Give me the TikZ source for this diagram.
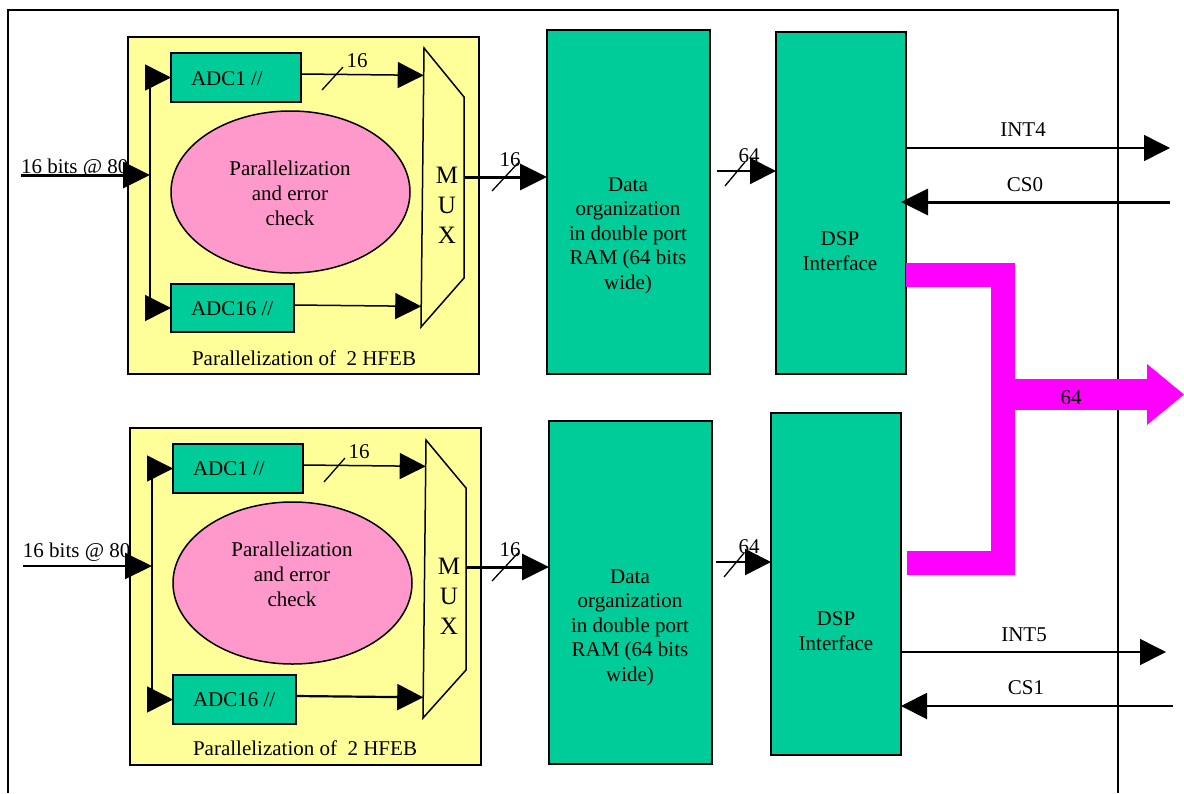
\documentclass[tikz,border=0pt]{standalone}
\usepackage{fontspec}
\setmainfont{Liberation Serif}
\usetikzlibrary{arrows.meta,shapes.geometric,calc}
\definecolor{hfebyellow}{HTML}{FFFF99}
\definecolor{blockgreen}{HTML}{00CC99}
\definecolor{checkpink}{HTML}{FF99CC}
\definecolor{busmagenta}{HTML}{FF00FF}
% rectangle node given by its corners: style, x1, y1, x2, y2, name
\newcommand\placeblock[6]{%
  \node[#1,minimum width={(#4)-(#2)},minimum height={(#5)-(#3)}] (#6)
    at ({((#2)+(#4))/2},{((#3)+(#5))/2}) {};}
\begin{document}
\begin{tikzpicture}[x=1pt,y=-1pt,
  font=\fontsize{21}{25}\selectfont,
  every node/.style={inner sep=0pt,outer sep=0pt},
  card/.style={draw,line width=1.5pt,rectangle},
  hfeb/.style={card,fill=hfebyellow},
  unit/.style={card,fill=blockgreen},
  check/.style={draw,line width=1.5pt,ellipse,fill=checkpink,
    minimum width=239pt,minimum height=162pt},
  sig/.style={line width=1.5pt,-{Triangle[length=26pt,width=26pt]}},
  bigsig/.style={line width=3pt,-{Triangle[length=27pt,width=26pt]}},
  wire/.style={line width=1.5pt},
  tick/.style={line width=1.3pt},
  lbl/.style={anchor=base},
  % multi-line text: positioned by the baseline of its last line
  txt/.style={anchor=base,align=center},
  ramtxt/.style={txt,font=\fontsize{21}{24.5}\selectfont},
  muxtxt/.style={txt,font=\fontsize{25}{30}\selectfont},
  bus/.style={busmagenta,line join=miter},
]
\useasboundingbox (0,0) rectangle (1184,793);

% outer frame
\draw[line width=1.5pt] (8,793) -- (8,10) -- (1118,10) -- (1118,793);

% ================= upper channel =================
\placeblock{hfeb}{128}{37}{479}{374}{hfebA}
\node[lbl] (hfebAcap) at (304,365) {Parallelization of\ \ 2 HFEB};
\placeblock{unit}{171}{53}{301}{102}{adc1A}
\node[anchor=base west] (adc1Atxt) at (191,85) {ADC1 //};
\placeblock{unit}{171}{284}{294}{332}{adc16A}
\node[anchor=base west] (adc16Atxt) at (191,315) {ADC16 //};
\node[check] (parA) at (290.5,192) {};
\node[txt] (parAtxt) at (290,225.5) {Parallelization\\and error\\check};

\coordinate (muxAtl) at (424,48);
\coordinate (muxAtr) at (464,97);
\coordinate (muxAbr) at (464,278);
\coordinate (muxAbl) at (421,327);
\draw[wire,fill=hfebyellow] (muxAtl) -- (muxAtr) -- (muxAbr) -- (muxAbl) -- cycle;
\node[muxtxt] (muxAtxt) at (447,243) {M\\U\\X};

\coordinate (inA) at (21,175);
\coordinate (splitA) at (150,175);
\draw[bigsig] (inA) -- (splitA);
\node[anchor=base west] (inAtxt) at (21,173) {16 bits @ 80};
\draw[wire] (splitA |- adc1A.west) -- (splitA |- adc16A.west);
\draw[sig] (splitA |- adc1A.west) -- (adc1A.west);
\draw[sig] (splitA |- adc16A.west) -- (adc16A.west);

\coordinate (a1A) at ($(adc1A.east)+(0,-3.5)$);
\draw[sig] (a1A) -- ($(muxAtl)!(a1A)!(muxAbl)$);
\draw[tick] (322,90) -- (343,67);
\node[lbl] (w1A) at (357,67) {16};
\coordinate (a16A) at ($(adc16A.east)+(0,-3)$);
\draw[sig] (a16A) -- ($(muxAtl)!(a16A)!(muxAbl)$);

\placeblock{unit}{547}{30}{710}{374}{dataA}
\node[ramtxt] (dataAtxt) at (628,289) {Data\\organization\\in double port\\RAM (64 bits\\wide)};
\coordinate (muxAout) at (464,177);
\draw[bigsig] (muxAout) -- (muxAout -| dataA.west);
\draw[tick] (492,191) -- (518,163);
\node[lbl] (w2A) at (510,166.5) {16};

\placeblock{unit}{776}{32}{906}{374}{dspA}
\node[txt] (dspAtxt) at (840,270) {DSP\\Interface};
\coordinate (ramAout) at (717,171);
\draw[sig,line width=2pt] (ramAout) -- (ramAout -| dspA.west);
\draw[tick] (725,186) -- (745,162);
\node[lbl] (w3A) at (749,162) {64};

\coordinate (int4) at (1170,148);
\draw[sig] (int4 -| dspA.east) -- (int4);
\node[lbl] (int4txt) at (1023,136) {INT4};
\coordinate (cs0) at (1170,202);
\draw[bigsig] (cs0) -- ($(cs0 -| dspA.east)+(-5,0)$);
\node[lbl] (cs0txt) at (1025,191) {CS0};

% ================= lower channel =================
\placeblock{hfeb}{130}{428}{481}{765}{hfebB}
\node[lbl] (hfebBcap) at (305,755) {Parallelization of\ \ 2 HFEB};
\placeblock{unit}{173}{444}{303}{493}{adc1B}
\node[anchor=base west] (adc1Btxt) at (193,475) {ADC1 //};
\placeblock{unit}{173}{675}{296}{724}{adc16B}
\node[anchor=base west] (adc16Btxt) at (193,706) {ADC16 //};
\node[check] (parB) at (292.5,583) {};
\node[txt] (parBtxt) at (292,606.5) {Parallelization\\and error\\check};

\coordinate (muxBtl) at (426,440);
\coordinate (muxBtr) at (466,488);
\coordinate (muxBbr) at (466,670);
\coordinate (muxBbl) at (423,718);
\draw[wire,fill=hfebyellow] (muxBtl) -- (muxBtr) -- (muxBbr) -- (muxBbl) -- cycle;
\node[muxtxt] (muxBtxt) at (449,634) {M\\U\\X};

\coordinate (inB) at (23,566);
\coordinate (splitB) at (152,566);
\draw[bigsig,line width=2pt] (inB) -- (splitB);
\node[anchor=base west] (inBtxt) at (23,557) {16 bits @ 80};
\draw[wire] (splitB |- adc1B.west) -- (splitB |- adc16B.west);
\draw[sig] (splitB |- adc1B.west) -- (adc1B.west);
\draw[sig] (splitB |- adc16B.west) -- (adc16B.west);

\coordinate (a1B) at ($(adc1B.east)+(0,-3.5)$);
\draw[sig] (a1B) -- ($(muxBtl)!(a1B)!(muxBbl)$);
\draw[tick] (324,482) -- (345,458);
\node[lbl] (w1B) at (359,458) {16};
\coordinate (a16B) at ($(adc16B.east)+(0,-3.5)$);
\draw[sig,line width=2.2pt] (a16B) -- ($(muxBtl)!(a16B)!(muxBbl)$);

\placeblock{unit}{549}{421}{712}{764}{dataB}
\node[ramtxt] (dataBtxt) at (630,681) {Data\\organization\\in double port\\RAM (64 bits\\wide)};
\coordinate (muxBout) at (466,567);
\draw[bigsig] (muxBout) -- (muxBout -| dataB.west);
\draw[tick] (492,581) -- (518,553);
\node[lbl] (w2B) at (510,556.5) {16};

\placeblock{unit}{771}{413}{901}{755}{dspB}
\node[txt] (dspBtxt) at (836,650) {DSP\\Interface};
\coordinate (ramBout) at (716,562);
\draw[sig,line width=2.5pt] (ramBout) -- (ramBout -| dspB.west);
\draw[tick] (724,577) -- (744,553);
\node[lbl] (w3B) at (749,553) {64};

\coordinate (int5) at (1166,652);
\draw[sig] (int5 -| dspB.east) -- (int5);
\node[lbl] (int5txt) at (1024,641) {INT5};
\coordinate (cs1) at (1173,706);
\draw[sig,line width=2pt] (cs1) -- (cs1 -| dspB.east);
\node[lbl] (cs1txt) at (1026,694) {CS1};

% ================= 64-bit output bus =================
\draw[bus,line width=24pt] (dspA.east |- 0,275) -- (1002.5,275) -- (1002.5,563)
  -- ($(dspB.east |- 0,563)+(6,0)$);
\coordinate (busout) at (1184,394.5);
\draw[bus,line width=31pt,-{Triangle[length=37pt,width=61pt,line width=0pt]}]
  (1002.5,394.5) -- (busout);
\node[lbl] (bustxt) at (1071,404) {64};
\end{tikzpicture}
\end{document}
